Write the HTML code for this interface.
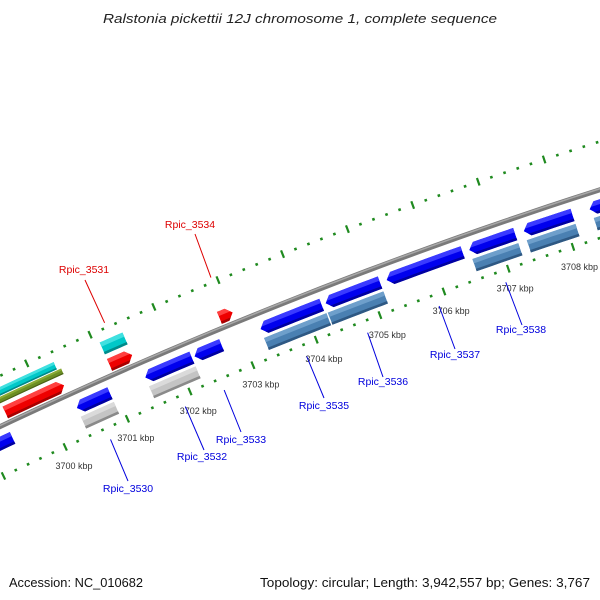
<!DOCTYPE html>
<html><head><meta charset="utf-8">
<style>
html,body{margin:0;padding:0;background:#fff;width:600px;height:600px;overflow:hidden;}
svg{display:block;overflow:hidden;font-family:"Liberation Sans","DejaVu Sans",sans-serif;}
</style></head>
<body>
<svg id="map" width="600" height="600" viewBox="0 0 600 600" xmlns="http://www.w3.org/2000/svg">
<defs id="defs"><clipPath id="frame"><rect x="0" y="0" width="600" height="600"/></clipPath></defs>
<rect x="0" y="0" width="600" height="600" fill="#fff"/>
<g clip-path="url(#frame)">
<g id="ticks"></g>
<g id="backbone"></g>
<g id="features"></g>
<g id="labels"></g>
</g>
<text x="300" y="23" text-anchor="middle" font-style="italic" font-size="13" fill="#222" textLength="394" lengthAdjust="spacingAndGlyphs">Ralstonia pickettii 12J chromosome 1, complete sequence</text>
<text x="9" y="587" font-size="13" fill="#111" textLength="134" lengthAdjust="spacingAndGlyphs">Accession: NC_010682</text>
<text x="590" y="587" text-anchor="end" font-size="13" fill="#111" textLength="330" lengthAdjust="spacingAndGlyphs">Topology: circular; Length: 3,942,557 bp; Genes: 3,767</text>
</svg>
<script>
// ---- data ----
const tickMajor = [3698,3699,3700,3701,3702,3703,3704,3705,3706,3707,3708,3709,3710];
const tickLabels = ["3700 kbp","3701 kbp","3702 kbp","3703 kbp","3704 kbp","3705 kbp","3706 kbp","3707 kbp","3708 kbp"];
const tickLabelPos = [3700,3701,3702,3703,3704,3705,3706,3707,3708];
const featStart = [3699.42,3701.08,3702.81, 3698.3, 3698.3, 3701.08, 3698.6,3700.39,3701.48,3702.26,3703.30,3704.32,3705.27,3706.55,3707.39,3708.40, 3700.39,3701.48,3703.30,3704.30,3706.55,3707.39,3708.42];
const featEnd   = [3700.36,3701.44,3703.02, 3700.36, 3700.42, 3701.44, 3699.36,3700.92,3702.22,3702.69,3704.26,3705.17,3706.45,3707.26,3708.14,3709.6, 3700.92,3702.22,3704.28,3705.17,3707.26,3708.14,3709.6];
const featType  = ["red","red","red","cyanBig","olive","cyanSmall","blue","blue","blue","blue","blue","blue","blue","blue","blue","blue","gray","gray","steel","steel","steel","steel","steel"];
const featDir   = [1,1,1,0,0,0,0,-1,-1,-1,-1,-1,-1,-1,-1,-1,0,0,0,0,0,0,0];
const geneNames = ["Rpic_3531","Rpic_3534","Rpic_3530","Rpic_3532","Rpic_3533","Rpic_3535","Rpic_3536","Rpic_3537","Rpic_3538"];
const geneMid   = [3701.26,3702.92,3700.65,3701.85,3702.47,3703.78,3704.74,3705.86,3706.9];
const geneStrand= [1,1,-1,-1,-1,-1,-1,-1,-1];
// ---- layout ----
const labelXY = [[84,273],[190,228],[128,492],[202,460],[241,443],[324,409],[383,385],[455,358],[521,333]];
const lineEnd = [[85,280],[195,234],[128,481],[204,450],[241,432],[324,398],[383,377],[455,349],[522,325]];
const CX=2084, CY=4826, R0=4868, A0=-114.75, DEG=0.811;
const tracks = {red:[4872,4885],cyanBig:[4896,4904],olive:[4889,4895],cyanSmall:[4890,4903],blue:[4846,4859],gray:[4830,4843],steel:[4830,4843]};
const colors = {red:["#ee0000","#ff4040","#a80000"],cyanBig:["#00c8c8","#40e0e0","#008a8a"],cyanSmall:["#00c8c8","#40e0e0","#008a8a"],olive:["#6b8e23","#8aab35","#4a6318"],blue:["#0000ee","#3a3aff","#0000a0"],gray:["#c4c4c4","#dadada","#8a8a8a"],steel:["#4a80b2","#6e9fcb","#2e5883"]};
const NS="http://www.w3.org/2000/svg";
function ang(p){return (A0+(p-3700)*DEG)*Math.PI/180;}
function pt(p,r){const a=ang(p);return [CX+r*Math.cos(a),CY+r*Math.sin(a)];}
function mk(tag,attrs,parent){const e=document.createElementNS(NS,tag);for(const k in attrs)e.setAttribute(k,attrs[k]);parent.appendChild(e);return e;}
function arc(s,e,r,n){const o=[];for(let i=0;i<=n;i++){o.push(pt(s+(e-s)*i/n,r));}return o;}
function fmt(ps){return ps.map(q=>q[0].toFixed(2)+","+q[1].toFixed(2)).join(" ");}

// backbone (drawn as a short arc path, not a full huge circle)
const bb=document.getElementById('backbone');
const bbPts=arc(3697,3711,R0,40);
let c1=mk('polyline',{points:fmt(bbPts),fill:'none',stroke:'#7a7a7a','stroke-width':5},bb);


let c2=mk('polyline',{points:fmt(arc(3697,3711,R0+1,40)),fill:'none',stroke:'#a8a8a8','stroke-width':1.5},bb);



// ticks
const tg=document.getElementById('ticks');
[4914,4822].forEach(function(rr){
  tickMajor.forEach(function(m){
    for(let k=0;k<5;k++){
      const p=m+k*0.2;
      const len=k===0?4:1.3;
      const a=pt(p,rr-len),b=pt(p,rr+len);
      const l=mk('line',{x1:a[0],y1:a[1],x2:b[0],y2:b[1],stroke:'#1f8a1f','stroke-width':k===0?2.2:2.6},tg);
      
      
    }
  });
});
tickLabels.forEach(function(t,i){
  const q=pt(tickLabelPos[i],4801);
  const tx=mk('text',{x:q[0],y:q[1]+3,'text-anchor':'middle','font-size':9,fill:'#333'},tg);
  tx.textContent=t;
  
  
});

// features
const fg=document.getElementById('features'), defs=document.getElementById('defs');
const TIP=0.09;
featStart.forEach(function(s,i){
  const e=featEnd[i], tr=tracks[featType[i]], col=colors[featType[i]], d=featDir[i];
  const r1=tr[0], r2=tr[1], rm=(r1+r2)/2;
  let poly;
  if(d===1){poly=arc(s,e-TIP,r2,6).concat([pt(e,rm)]).concat(arc(e-TIP,s,r1,6));}
  else if(d===-1){poly=[pt(s,rm)].concat(arc(s+TIP,e,r2,6)).concat(arc(e,s+TIP,r1,6));}
  else{poly=arc(s,e,r2,6).concat(arc(e,s,r1,6));}
  const id='clip'+i;
  const cp=mk('clipPath',{id:id},defs);
  mk('polygon',{points:fmt(poly)},cp);
  const g=mk('g',{'clip-path':'url(#'+id+')'},fg);
  
  
  mk('polygon',{points:fmt(poly),fill:col[0]},g);
  const hi=arc(s-0.2,e+0.2,r2+1,8).concat(arc(e+0.2,s-0.2,r2-(r2-r1)*0.35,8));
  mk('polygon',{points:fmt(hi),fill:col[1]},g);
  const lo=arc(s-0.2,e+0.2,r1+(r2-r1)*0.2,8).concat(arc(e+0.2,s-0.2,r1-1,8));
  mk('polygon',{points:fmt(lo),fill:col[2]},g);
});

// gene labels
const lg=document.getElementById('labels');
geneNames.forEach(function(n,i){
  const col=geneStrand[i]===1?'#dd0000':'#0000dd';
  const st=pt(geneMid[i],geneStrand[i]===1?4919:4810);
  const ln=mk('line',{x1:st[0],y1:st[1],x2:lineEnd[i][0],y2:lineEnd[i][1],stroke:col,'stroke-width':1},lg);
  
  
  const t=mk('text',{x:labelXY[i][0],y:labelXY[i][1],'text-anchor':'middle','font-size':10.5,fill:col},lg);
  t.textContent=n;
  
  
});
</script>
</body></html>
